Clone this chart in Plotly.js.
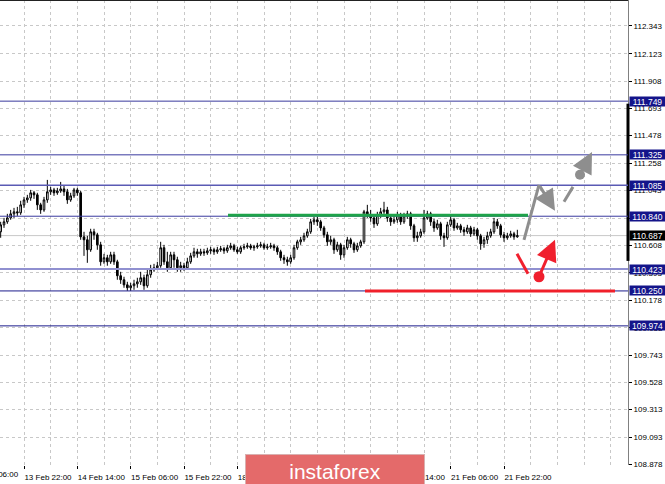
<!DOCTYPE html>
<html><head><meta charset="utf-8">
<script src="https://cdn.plot.ly/plotly-3.0.1.min.js"></script>
<style>html,body{margin:0;padding:0;background:#fff}#chart{width:665px;height:484px}</style>
</head><body><div id="chart"></div>
<script>
// USDJPY H1 candles (bar 0 = 13 Feb 15:00)
const openP = [
110.717,110.772,110.796,110.827,110.859,110.875,110.867,110.930,110.969,110.985,
111.025,111.009,110.930,110.890,110.969,111.033,111.048,111.025,111.040,111.056,
111.033,110.969,111.001,111.048,111.025,110.677,110.654,110.575,110.717,110.693,
110.614,110.480,110.512,110.480,110.535,110.480,110.370,110.338,110.298,110.275,
110.291,110.306,110.322,110.354,110.291,110.378,110.417,110.433,110.449,110.591,
110.480,110.433,110.535,110.496,110.433,110.449,110.433,110.480,110.527,110.559,
110.543,110.559,110.551,110.567,110.575,110.559,110.575,110.583,110.567,110.591,
110.606,110.575,110.559,110.591,110.598,110.606,110.591,110.598,110.606,110.614,
110.591,110.598,110.606,110.591,110.559,110.512,110.496,110.480,110.512,110.591,
110.638,110.654,110.685,110.717,110.796,110.812,110.796,110.748,110.693,110.638,
110.654,110.575,110.614,110.535,110.591,110.654,110.622,110.575,110.606,110.638,
110.875,110.851,110.827,110.780,110.851,110.875,110.890,110.827,110.796,110.812,
110.851,110.796,110.843,110.859,110.764,110.670,110.685,110.717,110.827,110.859,
110.796,110.748,110.780,110.685,110.670,110.772,110.812,110.748,110.764,110.733,
110.717,110.748,110.701,110.733,110.685,110.622,110.654,110.685,110.717,110.796,
110.764,110.693,110.670,110.685,110.701,110.677];
const highP = [
110.796,110.827,110.859,110.890,110.906,110.914,110.962,110.993,111.009,111.048,
111.040,111.025,110.946,110.993,111.127,111.072,111.064,111.064,111.111,111.080,
111.056,111.025,111.064,111.064,111.040,110.717,110.685,110.741,110.741,110.709,
110.638,110.543,110.535,110.559,110.559,110.496,110.401,110.362,110.322,110.314,
110.338,110.354,110.401,110.378,110.417,110.456,110.464,110.480,110.638,110.614,
110.559,110.559,110.559,110.520,110.480,110.472,110.512,110.551,110.591,110.583,
110.583,110.583,110.591,110.598,110.591,110.598,110.606,110.598,110.614,110.630,
110.622,110.598,110.606,110.622,110.630,110.622,110.614,110.630,110.638,110.630,
110.622,110.630,110.622,110.606,110.575,110.535,110.520,110.535,110.614,110.654,
110.677,110.709,110.741,110.819,110.835,110.835,110.812,110.764,110.717,110.685,
110.670,110.638,110.630,110.614,110.677,110.670,110.638,110.630,110.654,110.890,
110.930,110.890,110.851,110.875,110.906,110.954,110.914,110.851,110.843,110.875,
110.867,110.867,110.883,110.875,110.780,110.717,110.741,110.890,110.883,110.875,
110.819,110.812,110.796,110.709,110.796,110.851,110.827,110.788,110.780,110.756,
110.772,110.764,110.756,110.748,110.701,110.677,110.717,110.741,110.827,110.819,
110.780,110.717,110.709,110.725,110.717,110.733];
const lowP = [
110.670,110.748,110.780,110.812,110.827,110.843,110.851,110.906,110.946,110.962,
110.977,110.890,110.859,110.875,110.946,111.009,111.001,111.009,111.025,111.001,
110.938,110.954,110.985,111.001,110.654,110.527,110.472,110.559,110.654,110.575,
110.449,110.464,110.449,110.464,110.456,110.338,110.306,110.275,110.251,110.251,
110.259,110.275,110.298,110.259,110.275,110.354,110.401,110.417,110.433,110.456,
110.401,110.417,110.433,110.401,110.401,110.409,110.417,110.464,110.512,110.512,
110.527,110.527,110.535,110.543,110.535,110.543,110.559,110.543,110.551,110.575,
110.559,110.543,110.543,110.575,110.583,110.575,110.567,110.583,110.591,110.575,
110.575,110.583,110.567,110.535,110.488,110.464,110.449,110.464,110.496,110.575,
110.614,110.638,110.670,110.701,110.772,110.764,110.725,110.670,110.606,110.614,
110.543,110.559,110.496,110.512,110.575,110.591,110.551,110.559,110.591,110.622,
110.827,110.796,110.748,110.764,110.827,110.859,110.796,110.764,110.780,110.788,
110.772,110.780,110.819,110.733,110.638,110.638,110.670,110.701,110.812,110.764,
110.717,110.733,110.654,110.598,110.654,110.756,110.725,110.733,110.709,110.685,
110.701,110.677,110.685,110.654,110.575,110.591,110.622,110.670,110.701,110.741,
110.670,110.638,110.654,110.670,110.654,110.670];
const closeP = [
110.772,110.796,110.827,110.859,110.875,110.867,110.930,110.969,110.985,111.025,
111.009,110.930,110.890,110.969,111.033,111.048,111.025,111.040,111.056,111.033,
110.969,111.001,111.048,111.025,110.677,110.654,110.575,110.717,110.693,110.614,
110.480,110.512,110.480,110.535,110.480,110.370,110.338,110.298,110.275,110.291,
110.306,110.322,110.354,110.291,110.378,110.417,110.433,110.449,110.591,110.480,
110.433,110.535,110.496,110.433,110.449,110.433,110.480,110.527,110.559,110.543,
110.559,110.551,110.567,110.575,110.559,110.575,110.583,110.567,110.591,110.606,
110.575,110.559,110.591,110.598,110.606,110.591,110.598,110.606,110.614,110.591,
110.598,110.606,110.591,110.559,110.512,110.496,110.480,110.512,110.591,110.638,
110.654,110.685,110.717,110.796,110.812,110.796,110.748,110.693,110.638,110.654,
110.575,110.614,110.535,110.591,110.654,110.622,110.575,110.606,110.638,110.875,
110.851,110.827,110.780,110.851,110.875,110.890,110.827,110.796,110.812,110.851,
110.796,110.843,110.859,110.764,110.670,110.685,110.717,110.827,110.859,110.796,
110.748,110.780,110.685,110.670,110.772,110.812,110.748,110.764,110.733,110.717,
110.748,110.701,110.733,110.685,110.622,110.654,110.685,110.717,110.796,110.764,
110.693,110.670,110.685,110.701,110.677,110.687];

const timeTickBars = [7, 23, 39, 55, 71, 87, 103, 119, 135, 151];
const timeTickLabels = ["13 Feb 22:00","14 Feb 14:00","15 Feb 06:00","15 Feb 22:00","18 Feb 14:00",
                        "19 Feb 06:00","19 Feb 22:00","20 Feb 14:00","21 Feb 06:00","21 Feb 22:00"];
const priceTicks = [112.343,112.123,111.908,111.693,111.478,111.258,111.043,110.823,110.608,
                    110.393,110.178,109.958,109.743,109.528,109.313,109.093,108.878];
const levelPrices = [111.749, 111.325, 111.085, 110.840, 110.423, 110.250, 109.974];
const levelColors = ['#3a3a9e','#3a3a9e','#5a5ab4','#3a3a9e','#9090d0','#1c1c8c','#1c1c8c'];
const levelWidths = [1, 1, 1.5, 1, 2, 1, 1];
const currentPrice = 110.687;
const resistance = 110.848;   // green
const support = 110.250;      // red

const bars = openP.map((_, i) => i);
const FONT = 'Liberation Sans, Arial, sans-serif';

const shapes = [];
const annotations = [];

// top frame
shapes.push({type:'line', xref:'paper', yref:'paper', x0:0, x1:1, y0:1, y1:1, line:{color:'#222', width:2}});
// thick black price-scale marker
shapes.push({type:'line', xref:'paper', yref:'y', x0:1, x1:1, y0:111.729, y1:110.487, line:{color:'#000', width:3}});

// current price line
shapes.push({type:'line', xref:'paper', yref:'y', x0:0, x1:1, y0:currentPrice, y1:currentPrice, line:{color:'#c8c8c8', width:1}, layer:'below'});

levelPrices.forEach((p, k) => {
  shapes.push({type:'line', xref:'paper', yref:'y', x0:0, x1:1, y0:p, y1:p, line:{color:levelColors[k], width:levelWidths[k]}});
  annotations.push({xref:'paper', yref:'y', x:1, y:p, xanchor:'left', yanchor:'middle', xshift:1,
    text:p.toFixed(3), showarrow:false, bgcolor:'#14148a', borderpad:0, width:35, height:9,
    font:{family:FONT, size:8.5, color:'#ffffff'}});
});
annotations.push({xref:'paper', yref:'y', x:1, y:currentPrice, xanchor:'left', yanchor:'middle', xshift:1,
  text:currentPrice.toFixed(3), showarrow:false, bgcolor:'#000000', borderpad:0, width:35, height:9,
  font:{family:FONT, size:8.5, color:'#ffffff'}});

// green resistance & red support
shapes.push({type:'line', xref:'x', yref:'y', x0:68.2, x1:158.2, y0:resistance, y1:resistance, line:{color:'#1fa34a', width:3}});
shapes.push({type:'line', xref:'x', yref:'y', x0:109.3, x1:184.3, y0:support, y1:support, line:{color:'#f0202a', width:3}});

// gray scenario path
const GRAY = '#8e8e8e', RED = '#f0202e';
shapes.push({type:'line', xref:'x', yref:'y', x0:157.0, y0:110.654, x1:161.5, y1:111.088, line:{color:GRAY, width:3}});
annotations.push({xref:'x', yref:'y', axref:'x', ayref:'y', x:166.3, y:110.883, ax:161.5, ay:111.088,
  showarrow:true, arrowhead:2, arrowsize:1.4, arrowwidth:3, arrowcolor:GRAY, text:'', standoff:0});
shapes.push({type:'line', xref:'x', yref:'y', x0:169.0, y0:110.954, x1:171.7, y1:111.072, line:{color:GRAY, width:3}});
shapes.push({type:'circle', xref:'x', yref:'y', xsizemode:'pixel', ysizemode:'pixel', xanchor:173.8, yanchor:111.167,
  x0:-5, x1:5, y0:-5, y1:5, fillcolor:GRAY, line:{color:GRAY, width:0}});
annotations.push({xref:'x', yref:'y', axref:'x', ayref:'y', x:177.4, y:111.348, ax:173.8, ay:111.167,
  showarrow:true, arrowhead:2, arrowsize:1.4, arrowwidth:3, arrowcolor:GRAY, text:'', standoff:0});

// red scenario path
shapes.push({type:'line', xref:'x', yref:'y', x0:154.9, y0:110.543, x1:158.2, y1:110.385, line:{color:RED, width:3}});
shapes.push({type:'circle', xref:'x', yref:'y', xsizemode:'pixel', ysizemode:'pixel', xanchor:161.5, yanchor:110.362,
  x0:-5.5, x1:5.5, y0:-5.5, y1:5.5, fillcolor:RED, line:{color:RED, width:0}});
annotations.push({xref:'x', yref:'y', axref:'x', ayref:'y', x:166.3, y:110.654, ax:161.5, ay:110.362,
  showarrow:true, arrowhead:2, arrowsize:1.4, arrowwidth:3, arrowcolor:RED, text:'', standoff:0});

// partially visible first time label
annotations.push({xref:'paper', yref:'paper', x:-31/628, y:0, xanchor:'left', yanchor:'top', yshift:-3,
  text:'13 Feb 06:00', showarrow:false, font:{family:FONT, size:8, color:'#000'}});

// watermark
annotations.push({xref:'paper', yref:'paper', x:0.533, y:-0.013, xanchor:'center', yanchor:'middle',
  text:'instaforex', showarrow:false, bgcolor:'#e46a6a', bordercolor:'#d9b0b0', borderwidth:1,
  width:176, height:30, font:{family:FONT, size:21, color:'#ffffff'}});

const trace = {
  type:'candlestick', x:bars, open:openP, high:highP, low:lowP, close:closeP,
  increasing:{line:{color:'#000', width:1}, fillcolor:'#ffffff'},
  decreasing:{line:{color:'#000', width:1}, fillcolor:'#000000'},
  whiskerwidth:0, hoverinfo:'none', showlegend:false
};

const layout = {
  width:665, height:484,
  margin:{l:0, r:37, t:0, b:19, pad:0},
  paper_bgcolor:'#ffffff', plot_bgcolor:'#ffffff',
  showlegend:false,
  font:{family:FONT, size:8, color:'#000'},
  xaxis:{
    range:[-0.2, 188.2], rangeslider:{visible:false}, fixedrange:true,
    tickmode:'array', tickvals:timeTickBars, ticktext:timeTickLabels,
    ticks:'outside', ticklen:3, tickcolor:'#000', ticklabelshift:24, ticklabelstandoff:1,
    showgrid:false, zeroline:false, showline:false,
    tickfont:{family:FONT, size:8, color:'#000'},
    minor:{tickmode:'linear', tick0:7, dtick:8, showgrid:true, gridcolor:'#c8c8c8', griddash:'3px,3px', gridwidth:1, ticklen:0}
  },
  yaxis:{
    side:'right', range:[108.875, 112.548], fixedrange:true,
    tickmode:'array', tickvals:priceTicks, ticktext:priceTicks.map(v => v.toFixed(3)),
    ticks:'outside', ticklen:3, tickcolor:'#000',
    showgrid:true, gridcolor:'#c8c8c8', griddash:'3px,3px', gridwidth:1,
    zeroline:false, showline:true, linecolor:'#808080', linewidth:1,
    tickfont:{family:FONT, size:8, color:'#000'}
  },
  shapes:shapes, annotations:annotations
};

Plotly.newPlot('chart', [trace], layout, {displayModeBar:false, staticPlot:true});
</script>
</body></html>
